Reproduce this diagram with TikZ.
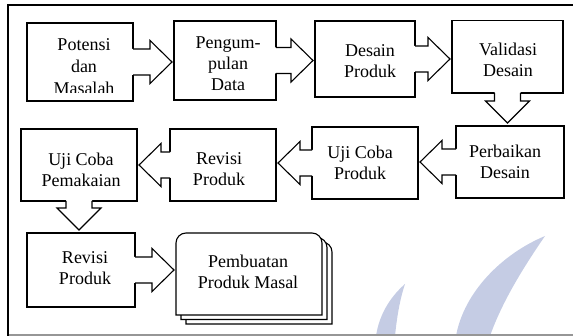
\documentclass[tikz,border=0pt]{standalone}
\usepackage{fontspec}
\setmainfont{Liberation Serif}
\usetikzlibrary{calc}
\definecolor{wmark}{RGB}{197,204,228}
\definecolor{framegray}{RGB}{150,150,150}
\newcommand{\mylines}[1]{\begin{tabular}[t]{@{}c@{}}#1\end{tabular}}
% block arrow to the right: from #1.east to #2.west
\newcommand{\rarrow}[2]{%
  \fill[white] let \p1=(#1.east), \p2=(#2.west) in
    (\x1-0.9pt,\y1+13pt) -- (\x2-24pt,\y1+13pt) -- (\x2-24pt,\y1+21.5pt) -- (\x2-2pt,\y1)
    -- (\x2-24pt,\y1-21.5pt) -- (\x2-24pt,\y1-13pt) -- (\x1-0.9pt,\y1-13pt) -- cycle;
  \draw[shapeline] let \p1=(#1.east), \p2=(#2.west) in
    (\x1,\y1+13pt) -- (\x2-24pt,\y1+13pt) -- (\x2-24pt,\y1+21.5pt) -- (\x2-2pt,\y1)
    -- (\x2-24pt,\y1-21.5pt) -- (\x2-24pt,\y1-13pt) -- (\x1,\y1-13pt);
}
% block arrow to the left: from #1.west to #2.east
\newcommand{\larrow}[2]{%
  \fill[white] let \p1=(#1.west), \p2=(#2.east) in
    (\x1+0.9pt,\y1+13pt) -- (\x2+24pt,\y1+13pt) -- (\x2+24pt,\y1+21.5pt) -- (\x2+2pt,\y1)
    -- (\x2+24pt,\y1-21.5pt) -- (\x2+24pt,\y1-13pt) -- (\x1+0.9pt,\y1-13pt) -- cycle;
  \draw[shapeline] let \p1=(#1.west), \p2=(#2.east) in
    (\x1,\y1+13pt) -- (\x2+24pt,\y1+13pt) -- (\x2+24pt,\y1+21.5pt) -- (\x2+2pt,\y1)
    -- (\x2+24pt,\y1-21.5pt) -- (\x2+24pt,\y1-13pt) -- (\x1,\y1-13pt);
}
% block arrow downwards: from #1.south to #2.north
\newcommand{\darrow}[2]{%
  \fill[white] let \p1=(#1.south), \p2=(#2.north) in
    (\x1-13pt,\y1+0.9pt) -- (\x1-13pt,\y2+25pt) -- (\x1-22pt,\y2+25pt) -- (\x1,\y2+3pt)
    -- (\x1+22pt,\y2+25pt) -- (\x1+13pt,\y2+25pt) -- (\x1+13pt,\y1+0.9pt) -- cycle;
  \draw[shapeline] let \p1=(#1.south), \p2=(#2.north) in
    (\x1-13pt,\y1) -- (\x1-13pt,\y2+25pt) -- (\x1-22pt,\y2+25pt) -- (\x1,\y2+3pt)
    -- (\x1+22pt,\y2+25pt) -- (\x1+13pt,\y2+25pt) -- (\x1+13pt,\y1);
}
\newcommand{\docpath}{(176,315) -- (176,243) .. controls (176,237.5) and (180.5,233) .. (186,233)
  -- (312,233) .. controls (317.5,233) and (322,237.5) .. (322,243) -- (322,315) -- cycle}
\begin{document}
\begin{tikzpicture}[x=1pt,y=-1pt,
  box/.style={draw, line width=1.1pt, rectangle, inner sep=0pt, outer sep=0pt, fill=white},
  txt/.style={inner sep=0pt, anchor=base, font=\fontsize{18}{21}\selectfont},
  shapeline/.style={line width=1.1pt, line join=miter},
  docshape/.style={draw, fill=white, line width=1.1pt},
  wm/.style={fill=wmark, draw=none}]
\useasboundingbox (0,0) rectangle (573,336);
% watermark
\fill[wm] (545,236) .. controls (502,254) and (464,292) .. (456,336) -- (490,336)
  .. controls (502,302) and (523,268) .. (545,236) -- cycle;
\fill[wm] (405,284) .. controls (389,298) and (379,316) .. (376,336) -- (395,336)
  .. controls (397,316) and (400,299) .. (405,284) -- cycle;
% frame
\draw[framegray, line width=1.5pt] (8,335) -- (573,335);
\draw[line width=2.2pt] (8,336) -- (8,5) -- (573,5);
% boxes
\node[box, minimum width=106pt, minimum height=78pt] (b1) at (80,62) {};
\node[box, minimum width=102pt, minimum height=79pt] (b2) at (225,60.5) {};
\node[box, minimum width=100pt, minimum height=76pt] (b3) at (365,59) {};
\node[box, minimum width=111pt, minimum height=72.5pt] (b4) at (507.5,56.75) {};
\node[box, minimum width=108pt, minimum height=72pt] (b5) at (510,162) {};
\node[box, minimum width=106pt, minimum height=72pt] (b6) at (365,163) {};
\node[box, minimum width=106pt, minimum height=72pt] (b7) at (223,165) {};
\node[box, minimum width=116pt, minimum height=72pt] (b8) at (79,165) {};
\node[box, minimum width=108pt, minimum height=74pt] (b9) at (81,270) {};
% multi-document shape
\draw[docshape, shift={(10,9)}] \docpath;
\draw[docshape, shift={(5,4.5)}] \docpath;
\draw[docshape] \docpath;
\node[rectangle, inner sep=0pt, outer sep=0pt, minimum width=146pt, minimum height=82pt] (b10) at (249,274) {};
% arrows
\rarrow{b1}{b2}
\rarrow{b2}{b3}
\rarrow{b3}{b4}
\darrow{b4}{b5}
\larrow{b5}{b6}
\larrow{b6}{b7}
\larrow{b7}{b8}
\darrow{b8}{b9}
\rarrow{b9}{b10}
% texts
\begin{scope}
\clip (27,23) rectangle (133,93);
\node[txt] (t1) at (84,50.5) {\renewcommand{\arraystretch}{1.0476}\mylines{Potensi\\dan\\Masalah}};
\end{scope}
\node[txt] (t2) at (228,49) {\mylines{Pengum-\\pulan\\Data}};
\node[txt] (t3) at (370,57) {\mylines{Desain\\Produk}};
\node[txt] (t4) at (508,56) {\mylines{Validasi\\Desain}};
\node[txt] (t5) at (505,158) {\mylines{Perbaikan\\Desain}};
\node[txt] (t6) at (360,159) {\mylines{Uji Coba\\Produk}};
\node[txt] (t7) at (219,165) {\mylines{Revisi\\Produk}};
\node[txt] (t8) at (81,166) {\mylines{Uji Coba\\Pemakaian}};
\node[txt] (t9) at (85,264) {\mylines{Revisi\\Produk}};
\node[txt] (t10) at (248,268) {\mylines{Pembuatan\\Produk Masal}};
\end{tikzpicture}
\end{document}
